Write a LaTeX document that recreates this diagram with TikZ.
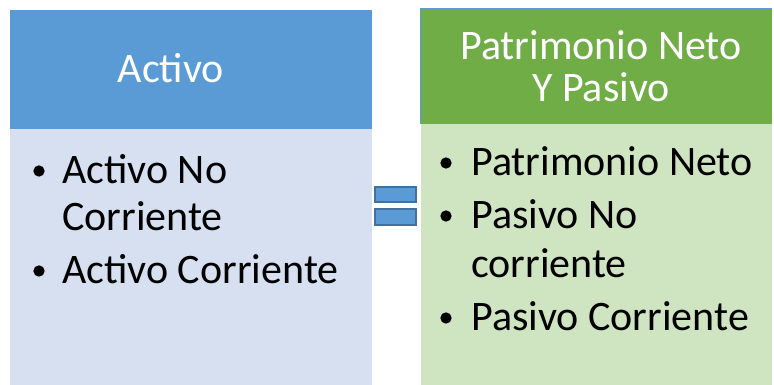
\documentclass[tikz,border=0pt]{standalone}
\usepackage{fontspec}
\setmainfont{Carlito}
\definecolor{hblue}{HTML}{5B9BD5}
\definecolor{hgreen}{HTML}{70AD47}
\definecolor{bblue}{HTML}{D6E0F0}
\definecolor{bgreen}{HTML}{CFE4C1}
\definecolor{eqborder}{HTML}{41719C}
\begin{document}
\begin{tikzpicture}[x=0.75pt,y=-0.75pt,
  txt/.style={inner sep=0pt,anchor=base west,font=\fontsize{31.5}{38}\selectfont},
  htxt/.style={inner sep=0pt,anchor=base,font=\fontsize{31.5}{38}\selectfont,text=white},
  bul/.style={circle,fill=black,inner sep=0pt,minimum size=8.5pt}]
\useasboundingbox (0,0) rectangle (774,385);
% left column
\fill[bblue] (10,129) rectangle (372,385);
\fill[hblue] (10,10) rectangle (372,129);
\node[htxt] (lh) at (171,83) {Activo};
\node[bul] (lb1) at (39,171) {};
\node[txt] (l1a) at (62,183) {Activo No};
\node[txt] (l1b) at (62,230) {Corriente};
\node[bul] (lb2) at (39,271) {};
\node[txt] (l2) at (62,283) {Activo Corriente};
% right column
\fill[bgreen] (421,124) rectangle (772,385);
\fill[hgreen] (420,8) rectangle (772,124);
\draw[hblue,line width=0.6pt] (420,124) -- (420,8) -- (772,8);
\node[htxt] (rh1) at (601,60) {Patrimonio Neto};
\node[htxt] (rh2) at (601,102) {Y Pasivo};
\node[bul] (rb1) at (446,163) {};
\node[txt] (r1) at (471,175) {Patrimonio Neto};
\node[bul] (rb2) at (446,216) {};
\node[txt] (r2a) at (471,228) {Pasivo No};
\node[txt] (r2b) at (471,277) {corriente};
\node[bul] (rb3) at (446,318) {};
\node[txt] (r3) at (471,330) {Pasivo Corriente};
% equals sign
\draw[fill=hblue,draw=eqborder,line width=1.5pt] (375,187) rectangle (416,202);
\draw[fill=hblue,draw=eqborder,line width=1.5pt] (375,209) rectangle (416,225);
\end{tikzpicture}
\end{document}
